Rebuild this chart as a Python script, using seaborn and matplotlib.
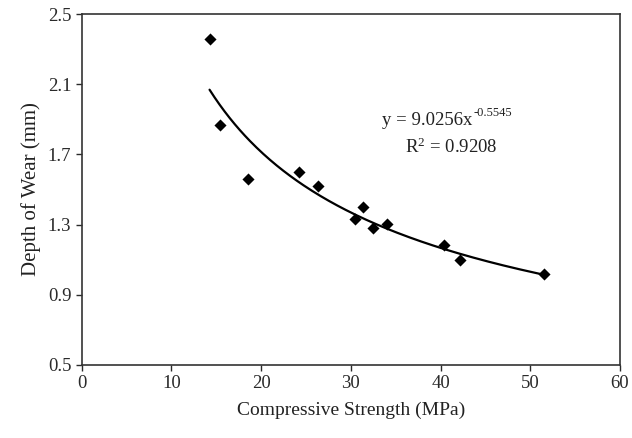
import numpy as np
import pandas as pd
import seaborn as sns
from matplotlib import pyplot as plt

# data
strength = [14.25, 15.4, 18.5, 24.2, 26.3, 30.5, 31.4, 32.5, 34.0, 40.35, 42.2, 51.5]
depth = [2.358, 1.868, 1.560, 1.598, 1.520, 1.330, 1.402, 1.279, 1.302, 1.182, 1.098, 1.019]

# power trendline as printed on the chart
coef_a = 9.0256
coef_b = -0.5545
r_squared = 0.9208

x_ticks = [0, 10, 20, 30, 40, 50, 60]
y_ticks = [0.5, 0.9, 1.3, 1.7, 2.1, 2.5]

df = pd.DataFrame({'strength': strength, 'depth': depth})
fit_x = np.linspace(min(strength), max(strength), 200)
fit_df = pd.DataFrame({'strength': fit_x, 'depth': coef_a * fit_x ** coef_b})

sns.set_theme(style='ticks')
plt.rcParams['font.family'] = ['Liberation Serif', 'DejaVu Serif']
plt.rcParams['mathtext.fontset'] = 'custom'
plt.rcParams['mathtext.rm'] = 'Liberation Serif'
plt.rcParams['mathtext.it'] = 'Liberation Serif'

fig = plt.figure(figsize=(6.32, 4.38), dpi=100)
ax = fig.add_axes([0.1293, 0.1667, 0.8517, 0.8013])

sns.lineplot(data=fit_df, x='strength', y='depth', color='black', lw=1.6, ax=ax)
sns.scatterplot(data=df, x='strength', y='depth', marker='D', s=38, color='black',
                edgecolor='black', linewidth=0, ax=ax, zorder=3)

ax.set_xlim(0, 60)
ax.set_ylim(0.5, 2.5)
ax.set_xticks(x_ticks)
ax.set_yticks(y_ticks)
ax.set_yticklabels([f'{v:.1f}' for v in y_ticks])
ax.tick_params(axis='both', labelsize=13.5, colors='#2a2a2a', length=4, width=1, direction='out')
for side in ['top', 'right', 'left', 'bottom']:
    ax.spines[side].set_visible(True)
    ax.spines[side].set_color('#333333')
    ax.spines[side].set_linewidth(1.2)

ax.set_xlabel('Compressive Strength (MPa)', fontsize=14, color='#222222', labelpad=7)
ax.set_ylabel('Depth of Wear (mm)', fontsize=15, color='#222222', labelpad=5)

# trendline equation, exponent drawn as a raised smaller text
ax.text(33.5, 1.895, 'y = 9.0256x', fontsize=13.5, color='#222222', va='center')
ax.text(43.65, 1.935, f'{coef_b}', fontsize=9, color='#222222', va='center')
ax.text(36.0, 1.742, r'R$^{\mathrm{2}}$ = ' + f'{r_squared}', fontsize=13.5, color='#222222',
        va='center')

fig.savefig('out.png', dpi=100)
